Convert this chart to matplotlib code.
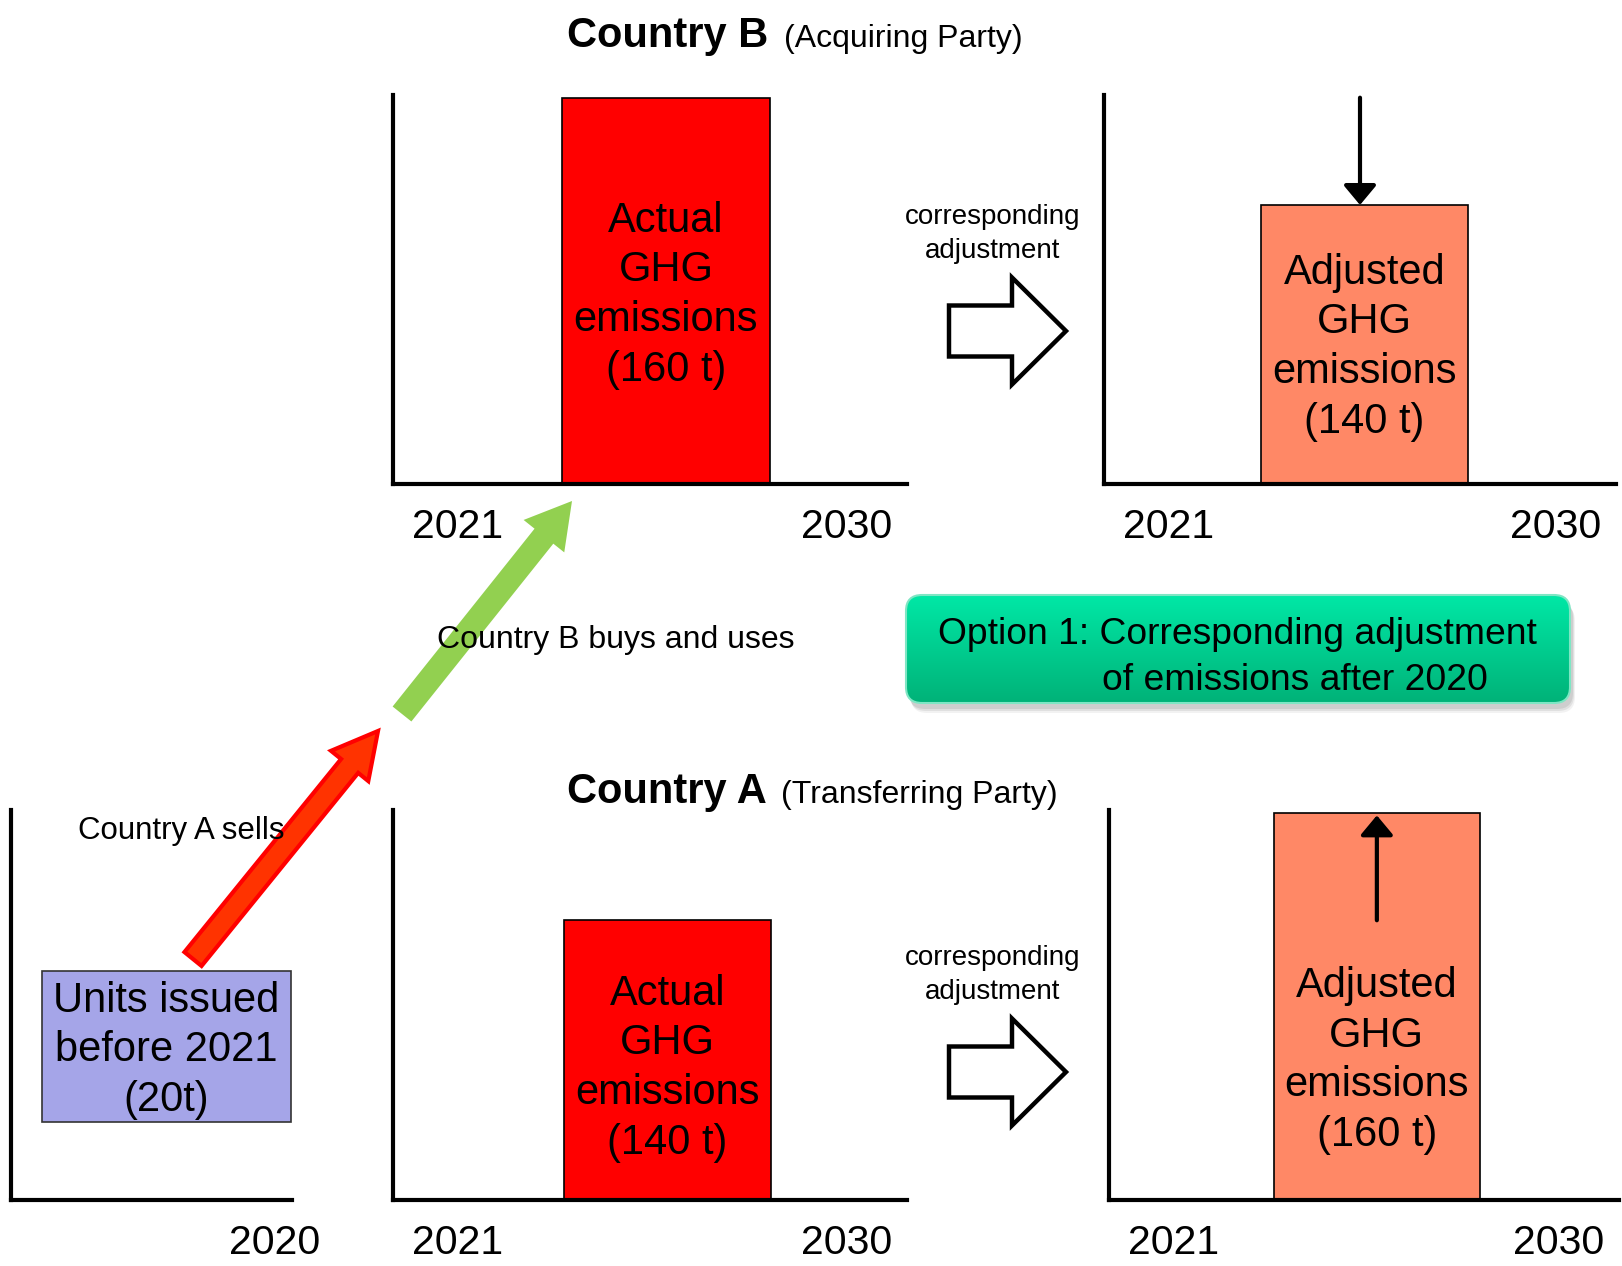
import numpy as np
import matplotlib.pyplot as plt
from matplotlib.patches import FancyBboxPatch, FancyArrow

plt.rcParams['font.family'] = ['Liberation Sans', 'DejaVu Sans']

W, H = 1622, 1266

# values shown in the diagram
years = [2021, 2030]
pre_years = [2020]
b_emissions = [160, 140]   # country B: actual, adjusted
a_emissions = [140, 160]   # country A: actual, adjusted
units_sold = 20
y_base, y_top = 88, 160.5  # truncated emission axis

fig = plt.figure(figsize=(W / 100, H / 100), dpi=100)


def panel(box, ticks, xlim):
    # box is (left, top, right, bottom) in pixels
    x0, yt, x1, yb = box
    ax = fig.add_axes([x0 / W, 1 - yb / H, (x1 - x0) / W, (yb - yt) / H])
    ax.set_xlim(*xlim)
    ax.set_ylim(y_base, y_top)
    ax.patch.set_alpha(0)
    ax.spines['top'].set_visible(False)
    ax.spines['right'].set_visible(False)
    ax.spines['left'].set_linewidth(3)
    ax.spines['bottom'].set_linewidth(3)
    ax.set_yticks([])
    ax.set_xticks(ticks)
    ax.set_xticklabels([str(t) for t in ticks])
    ax.tick_params(axis='x', length=0, pad=17, labelsize=29.5)
    return ax


def emission_bar(ax, value, color, word, text_y, xc):
    ax.bar(xc, value - y_base, bottom=y_base, width=4.8, color=color,
           edgecolor='black', linewidth=1.2, zorder=2)
    ax.text(xc, text_y, f"{word}\nGHG\nemissions\n({value} t)", ha='center',
            va='center', fontsize=30, linespacing=1.31, zorder=3)


xl = (2019.5, 2031.4)

# Country B
ax_b1 = panel((393, 95, 907, 484), years, xl)
emission_bar(ax_b1, b_emissions[0], '#ff0000', 'Actual',
             (y_base + b_emissions[0]) / 2 - 0.8, 2025.82)
ax_b2 = panel((1104, 95, 1616, 484), years, xl)
emission_bar(ax_b2, b_emissions[1], '#ff8866', 'Adjusted',
             (y_base + b_emissions[1]) / 2 - 0.5, 2025.55)
ax_b2.annotate('', xy=(2025.45, b_emissions[1]), xytext=(2025.45, b_emissions[0]),
               arrowprops=dict(arrowstyle='-|>,head_length=0.3,head_width=0.25',
                               lw=3, color='black', mutation_scale=40,
                               shrinkA=0, shrinkB=0), zorder=4)

# Country A
ax_a0 = panel((11, 810, 292, 1200), pre_years, (2013.86, 2020.4))
ax_a0.bar(2017.47, 28, bottom=102.5, width=5.8, color='#a5a5e8',
          edgecolor='#333333', linewidth=1.2, zorder=2)
ax_a0.text(2017.47, 115.8, f"Units issued\nbefore 2021\n({units_sold}t)", ha='center',
           va='center', fontsize=30, linespacing=1.31, zorder=3)

ax_a1 = panel((393, 810, 907, 1200), years, xl)
emission_bar(ax_a1, a_emissions[0], '#ff0000', 'Actual',
             (y_base + a_emissions[0]) / 2 - 1.5, 2025.85)
ax_a2 = panel((1109, 810, 1619, 1200), years, xl)
emission_bar(ax_a2, a_emissions[1], '#ff8866', 'Adjusted', 113.9, 2025.75)
ax_a2.annotate('', xy=(2025.75, a_emissions[1] - 0.5), xytext=(2025.75, a_emissions[0]),
               arrowprops=dict(arrowstyle='-|>,head_length=0.3,head_width=0.25',
                               lw=3, color='black', mutation_scale=40,
                               shrinkA=0, shrinkB=0), zorder=4)

# overlay in pixel coordinates for titles, arrows and the option box
ov = fig.add_axes([0, 0, 1, 1])
ov.set_xlim(0, W)
ov.set_ylim(H, 0)
ov.axis('off')
ov.patch.set_alpha(0)

ov.text(567, 47, 'Country B', fontsize=30, fontweight='bold', va='baseline')
ov.text(784, 47, '(Acquiring Party)', fontsize=23, va='baseline')
ov.text(567, 803, 'Country A', fontsize=30, fontweight='bold', va='baseline')
ov.text(781, 803, '(Transferring Party)', fontsize=23, va='baseline')

# hollow block arrows
for yc, ty in [(331, 234), (1072, 975)]:
    ov.add_patch(FancyArrow(949, yc, 117, 0, width=51, head_width=107, head_length=54,
                            length_includes_head=True, fc='white', ec='black', lw=3.2))
    ov.text(993, ty, 'corresponding\nadjustment', ha='center', va='center',
            fontsize=20, linespacing=1.37)

# transfer arrows
ov.add_patch(FancyArrow(193, 959, 378 - 193, 731 - 959, width=22, head_width=48,
                        head_length=45, length_includes_head=True,
                        fc='#ff3300', ec='#ff0000', lw=3, zorder=3))
ov.add_patch(FancyArrow(402, 714, 572 - 402, 501 - 714, width=24, head_width=52,
                        head_length=45, length_includes_head=True,
                        fc='#92d050', ec='none', zorder=3))
ov.text(78, 831, 'Country A sells', fontsize=22.5, va='center', zorder=5)
ov.text(437, 640, 'Country B buys and uses', fontsize=23, va='center', zorder=5)

# option box with gradient and shadow
bx0, by0, bx1, by1 = 906, 595, 1570, 703
for off, a in [(10, 0.05), (8, 0.07), (6, 0.08)]:
    ov.add_patch(FancyBboxPatch((bx0 + off / 2, by0 + off), bx1 - bx0, by1 - by0,
                                boxstyle='round,pad=0,rounding_size=16',
                                fc='#000000', ec='none', alpha=a, zorder=1))
box = FancyBboxPatch((bx0, by0), bx1 - bx0, by1 - by0,
                     boxstyle='round,pad=0,rounding_size=16',
                     fc='none', ec='#7fe6c4', lw=1.5, zorder=3)
ov.add_patch(box)
grad = np.linspace(0, 1, 256).reshape(-1, 1)
top_c = np.array([0, 232, 166]) / 255
bot_c = np.array([0, 178, 120]) / 255
img = top_c + (bot_c - top_c) * grad[..., None]
im = ov.imshow(img, extent=(bx0, bx1, by1, by0), aspect='auto', zorder=2)
im.set_clip_path(box)
ov.set_xlim(0, W)
ov.set_ylim(H, 0)
ov.text(938, 634, 'Option 1: Corresponding adjustment', fontsize=26.8,
        va='center', zorder=4)
ov.text(1102, 680, 'of emissions after 2020', fontsize=26.8, va='center', zorder=4)

fig.savefig('out.png', dpi=100)
